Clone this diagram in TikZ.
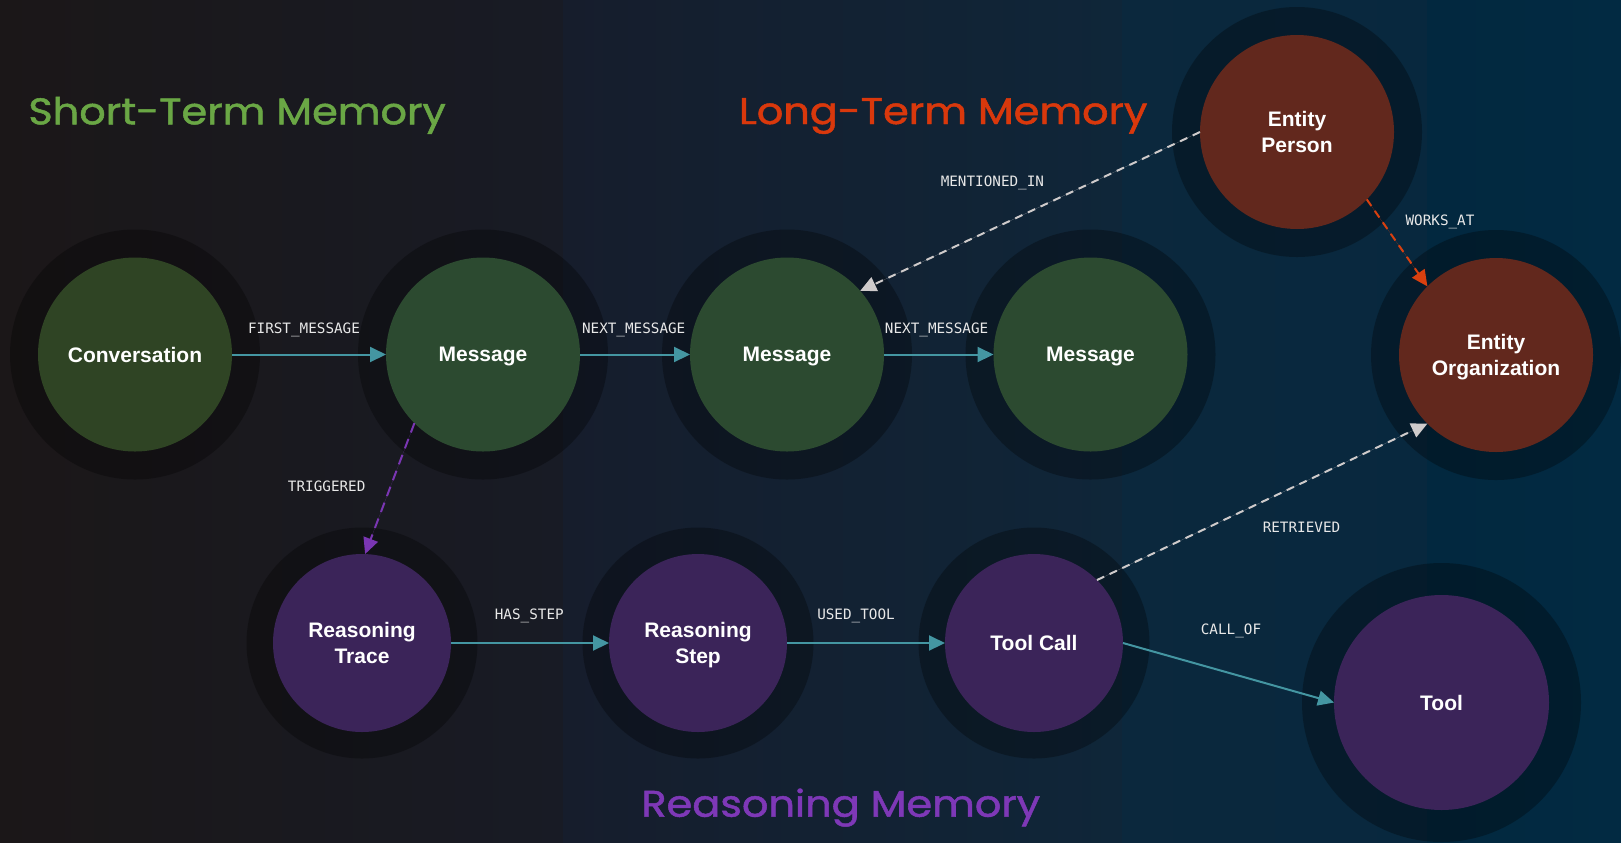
\documentclass[tikz,border=0pt]{standalone}
\usepackage{fontspec}
\setmainfont{Liberation Sans}
\newfontfamily\titlefont{Poppins}[FakeBold=1.3]
\newfontfamily\edgefont{DejaVu Sans Mono}
\usetikzlibrary{arrows.meta}

\definecolor{bgA}{HTML}{1B1718}
\definecolor{bgB}{HTML}{181B25}
\definecolor{bgC}{HTML}{161D2C}
\definecolor{bgD}{HTML}{0F2639}
\definecolor{bgE}{HTML}{0B283D}
\definecolor{bgF}{HTML}{08283E}
\definecolor{bgG}{HTML}{02283F}
\definecolor{bgH}{HTML}{022A42}
\definecolor{convgreen}{HTML}{2F4424}
\definecolor{msggreen}{HTML}{2C4A30}
\definecolor{entityred}{HTML}{62281D}
\definecolor{reasonpurple}{HTML}{3B2459}
\definecolor{titlegreen}{HTML}{6AA745}
\definecolor{titleorange}{HTML}{D9380C}
\definecolor{titlepurple}{HTML}{7E38B7}
\definecolor{edgeteal}{HTML}{4496A2}
\definecolor{edgegray}{HTML}{CFCBCB}
\definecolor{edgeorange}{HTML}{D9400F}
\definecolor{edgepurple}{HTML}{7A36B3}
\definecolor{labelwhite}{HTML}{E8E8E8}

\pgfdeclarelayer{backdrop}
\pgfdeclarelayer{rings}
\pgfsetlayers{backdrop,rings,main}

\newcommand{\wide}[1]{\scalebox{1.12}[1]{#1}}

\tikzset{
  entitynode/.style={circle, inner sep=0pt, outer sep=0pt, text=white,
    font=\fontsize{10.5pt}{13pt}\selectfont\bfseries, align=center, text depth=0pt},
  big/.style={minimum size=97pt},
  small/.style={minimum size=89pt},
  huge/.style={minimum size=107.5pt},
  convnode/.style={entitynode, big, fill=convgreen},
  msgnode/.style={entitynode, big, fill=msggreen},
  ltmnode/.style={entitynode, big, fill=entityred},
  rsnnode/.style={entitynode, small, fill=reasonpurple},
  ringfill/.style={fill=black, fill opacity=0.3},
  edgelabel/.style={text=labelwhite, font=\edgefont\fontsize{7.15pt}{8pt}\selectfont,
    inner sep=0pt},
  sectiontitle/.style={font=\titlefont\fontsize{18.5pt}{20pt}\selectfont,
    inner sep=0pt, anchor=base west},
  solidlink/.style={draw=edgeteal, line width=1pt,
    -{Triangle[length=8pt,width=7.5pt]}, fill=edgeteal},
  dashlink/.style={line width=1pt, dash pattern=on 4pt off 3pt,
    -{Triangle[length=8pt,width=7.5pt]}},
}

\begin{document}
\begin{tikzpicture}[x=0.5pt,y=-0.5pt]
\useasboundingbox (0,0) rectangle (1621,842);

% backdrop bands
\begin{pgfonlayer}{backdrop}
  \shade[left color=bgA, right color=bgB] (0,0) rectangle (563,842);
  \shade[left color=bgC, right color=bgD] (563,0) rectangle (1122,842);
  \shade[left color=bgE, right color=bgF] (1122,0) rectangle (1427,842);
  \shade[left color=bgG, right color=bgH] (1427,0) rectangle (1621,842);
\end{pgfonlayer}

% section titles
\node[sectiontitle, text=titlegreen] (tshort) at (28,124.3) {\wide{Short-Term Memory}};
\node[sectiontitle, text=titleorange] (tlong) at (738.5,124) {\wide{Long-Term Memory}};
\node[sectiontitle, text=titlepurple] (treason) at (641,816.7) {\wide{Reasoning Memory}};

% short-term memory
\node[convnode] (conv) at (135,354.5) {Conversation};
\node[msgnode] (msga) at (483,354.5) {Message};
\node[msgnode] (msgb) at (787,354.5) {Message};
\node[msgnode] (msgc) at (1090.5,354.5) {Message};

% long-term memory
\node[ltmnode] (person) at (1297,132) {Entity\\Person};
\node[ltmnode] (org) at (1496,355) {Entity\\Organization};

% reasoning memory
\node[rsnnode] (trace) at (362,643) {Reasoning\\Trace};
\node[rsnnode] (step) at (698,643) {Reasoning\\Step};
\node[rsnnode] (call) at (1034,643) {Tool Call};
\node[entitynode, huge, fill=reasonpurple] (tool) at (1441.5,702.5) {Tool};

% halo rings behind the nodes
\begin{pgfonlayer}{rings}
  \foreach \n in {conv,msga,msgb,msgc,person,org}
    \fill[ringfill] (\n.center) circle[radius=62.5pt];
  \foreach \n in {trace,step,call}
    \fill[ringfill] (\n.center) circle[radius=57.75pt];
  \fill[ringfill] (tool.center) circle[radius=69.75pt];
\end{pgfonlayer}

% relationships
\draw[solidlink] (conv) -- (msga);
\draw[solidlink] (msga) -- (msgb);
\draw[solidlink] (msgb) -- (msgc);
\draw[solidlink] (trace) -- (step);
\draw[solidlink] (step) -- (call);
\draw[solidlink] (call.east) -- (tool.west);
\draw[dashlink, draw=edgegray, fill=edgegray] (person.180) -- (msgb.41);
\draw[dashlink, draw=edgeorange, fill=edgeorange] (person.-44) -- (org.135);
\draw[dashlink, draw=edgegray, fill=edgegray] (call.45) -- (org.-135);
\draw[dashlink, draw=edgepurple, fill=edgepurple, dash pattern=on 5pt off 3.5pt] (msga.-135) -- (trace.88);

% relationship labels
\node[edgelabel] (lfirst) at (304,330.2) {FIRST\_MESSAGE};
\node[edgelabel] (lnexta) at (633.7,330.2) {NEXT\_MESSAGE};
\node[edgelabel] (lnextb) at (936.6,330.2) {NEXT\_MESSAGE};
\node[edgelabel] (lmention) at (992.4,182.4) {MENTIONED\_IN};
\node[edgelabel] (lworks) at (1440,221.5) {WORKS\_AT};
\node[edgelabel] (ltrig) at (326.7,486.3) {TRIGGERED};
\node[edgelabel] (lstep) at (529.3,615.5) {HAS\_STEP};
\node[edgelabel] (ltool) at (856,615.5) {USED\_TOOL};
\node[edgelabel] (lretr) at (1301.5,527.5) {RETRIEVED};
\node[edgelabel] (lcall) at (1231,631) {CALL\_OF};
\end{tikzpicture}
\end{document}
